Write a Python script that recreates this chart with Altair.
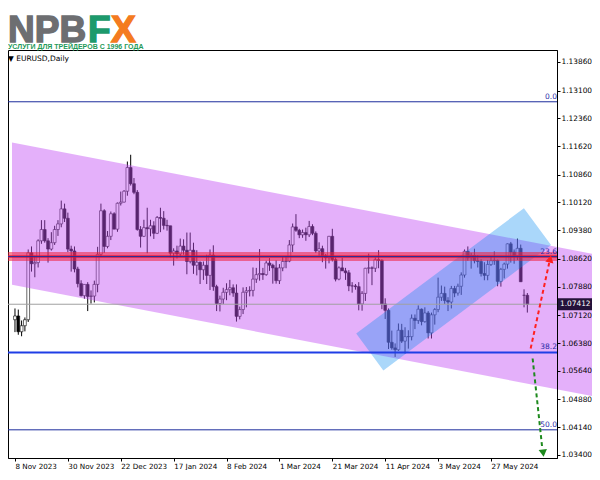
import altair as alt
import pandas as pd

# ---------------- data (EURUSD daily) ----------------
opens = [1.0700,1.0710,1.0668,1.0684,1.0700,1.0878,1.0849,1.0852,1.0910,1.0940,
         1.0910,1.0888,1.0905,1.0940,1.0955,1.0995,1.0970,1.0888,1.0883,1.0835,
         1.0796,1.0764,1.0794,1.0762,1.0763,1.0794,1.0874,1.0990,1.0895,1.0922,
         1.0982,1.0941,1.1010,1.1013,1.1042,1.1105,1.1062,1.1039,1.0940,1.0922,
         1.0945,1.0942,1.0950,1.0930,1.0972,1.0970,1.0951,1.0950,1.0877,1.0883,
         1.0875,1.0896,1.0885,1.0855,1.0885,1.0845,1.0853,1.0833,1.0845,1.0818,
         1.0872,1.0788,1.0743,1.0755,1.0773,1.0780,1.0785,1.0771,1.0709,1.0727,
         1.0773,1.0777,1.0778,1.0808,1.0820,1.0823,1.0820,1.0851,1.0845,1.0838,
         1.0804,1.0838,1.0855,1.0856,1.0899,1.0947,1.0938,1.0926,1.0932,1.0926,
         1.0948,1.0930,1.0883,1.0889,1.0870,1.0865,1.0922,1.0860,1.0808,1.0838,
         1.0830,1.0825,1.0790,1.0790,1.0788,1.0742,1.0770,1.0837,1.0838,1.0837,
         1.0860,1.0858,1.0742,1.0725,1.0640,1.0625,1.0620,1.0672,1.0643,1.0655,
         1.0655,1.0704,1.0698,1.0728,1.0695,1.0718,1.0665,1.0713,1.0727,1.0760,
         1.0770,1.0751,1.0747,1.0783,1.0771,1.0789,1.0819,1.0882,1.0865,1.0871,
         1.0857,1.0855,1.0823,1.0818,1.0847,1.0857,1.0858,1.0802,1.0834,1.0848,
         1.0902,1.0880,1.0870,1.0890,1.0765,1.0765]
highs = [1.0730,1.0727,1.0698,1.0706,1.0887,1.0895,1.0870,1.0914,1.0965,1.0965,
         1.0917,1.0933,1.0950,1.0965,1.1017,1.1009,1.0985,1.0897,1.0895,1.0841,
         1.0805,1.0794,1.0800,1.0778,1.0804,1.0894,1.1009,1.0994,1.0936,1.0988,
         1.0986,1.1012,1.1041,1.1045,1.1121,1.1139,1.1077,1.1045,1.0949,1.0966,
         1.0998,1.0966,1.0962,1.0976,1.0998,1.0989,1.0966,1.0950,1.0890,1.0897,
         1.0916,1.0914,1.0932,1.0932,1.0905,1.0885,1.0855,1.0855,1.0873,1.0887,
         1.0898,1.0793,1.0764,1.0785,1.0797,1.0806,1.0794,1.0794,1.0735,1.0786,
         1.0787,1.0789,1.0839,1.0838,1.0888,1.0838,1.0857,1.0864,1.0849,1.0858,
         1.0848,1.0867,1.0869,1.0912,1.0956,1.0981,1.0942,1.0940,1.0945,1.0963,
         1.0954,1.0935,1.0906,1.0897,1.0875,1.0923,1.0942,1.0866,1.0842,1.0865,
         1.0838,1.0832,1.0800,1.0795,1.0800,1.0776,1.0838,1.0876,1.0842,1.0866,
         1.0885,1.0861,1.0757,1.0730,1.0671,1.0637,1.0690,1.0689,1.0680,1.0672,
         1.0714,1.0714,1.0738,1.0730,1.0733,1.0723,1.0719,1.0731,1.0812,1.0791,
         1.0788,1.0760,1.0790,1.0790,1.0796,1.0826,1.0887,1.0895,1.0878,1.0889,
         1.0872,1.0861,1.0853,1.0859,1.0868,1.0882,1.0860,1.0838,1.0852,1.0903,
         1.0907,1.0887,1.0916,1.0900,1.0781,1.0771]
lows = [1.0667,1.0660,1.0656,1.0669,1.0694,1.0828,1.0813,1.0839,1.0902,1.0905,
        1.0852,1.0884,1.0899,1.0923,1.0946,1.0960,1.0880,1.0828,1.0826,1.0786,
        1.0762,1.0756,1.0723,1.0743,1.0746,1.0773,1.0867,1.0878,1.0890,1.0912,
        1.0941,1.0934,1.1004,1.1012,1.1030,1.1057,1.1034,1.0937,1.0892,1.0920,
        1.0877,1.0922,1.0915,1.0928,1.0933,1.0940,1.0937,1.0866,1.0844,1.0863,
        1.0868,1.0873,1.0821,1.0850,1.0822,1.0818,1.0795,1.0806,1.0795,1.0779,
        1.0777,1.0723,1.0722,1.0742,1.0752,1.0765,1.0761,1.0695,1.0701,1.0715,
        1.0733,1.0762,1.0762,1.0798,1.0804,1.0806,1.0817,1.0830,1.0796,1.0796,
        1.0795,1.0829,1.0837,1.0853,1.0880,1.0934,1.0917,1.0918,1.0910,1.0920,
        1.0925,1.0878,1.0870,1.0853,1.0836,1.0850,1.0855,1.0802,1.0805,1.0830,
        1.0806,1.0776,1.0772,1.0780,1.0725,1.0724,1.0750,1.0823,1.0792,1.0827,
        1.0837,1.0728,1.0702,1.0622,1.0620,1.0601,1.0617,1.0638,1.0610,1.0623,
        1.0645,1.0675,1.0689,1.0685,1.0692,1.0650,1.0650,1.0687,1.0720,1.0750,
        1.0742,1.0723,1.0730,1.0760,1.0764,1.0766,1.0812,1.0857,1.0836,1.0850,
        1.0839,1.0815,1.0805,1.0805,1.0843,1.0846,1.0789,1.0788,1.0810,1.0836,
        1.0852,1.0849,1.0859,1.0801,1.0733,1.0719]
closes = [1.0710,1.0668,1.0684,1.0700,1.0878,1.0849,1.0852,1.0910,1.0940,1.0910,
          1.0888,1.0905,1.0940,1.0955,1.0995,1.0970,1.0888,1.0883,1.0835,1.0796,
          1.0764,1.0794,1.0762,1.0763,1.0794,1.0874,1.0990,1.0895,1.0922,1.0982,
          1.0941,1.1010,1.1013,1.1042,1.1105,1.1062,1.1039,1.0940,1.0922,1.0945,
          1.0942,1.0950,1.0930,1.0972,1.0970,1.0951,1.0950,1.0877,1.0883,1.0875,
          1.0896,1.0885,1.0855,1.0885,1.0845,1.0853,1.0833,1.0845,1.0818,1.0872,
          1.0788,1.0743,1.0755,1.0773,1.0780,1.0785,1.0771,1.0709,1.0727,1.0773,
          1.0777,1.0778,1.0808,1.0820,1.0823,1.0820,1.0851,1.0845,1.0838,1.0804,
          1.0838,1.0855,1.0856,1.0899,1.0947,1.0938,1.0926,1.0932,1.0926,1.0948,
          1.0930,1.0883,1.0889,1.0870,1.0865,1.0922,1.0860,1.0808,1.0838,1.0830,
          1.0825,1.0790,1.0790,1.0788,1.0742,1.0770,1.0837,1.0838,1.0837,1.0860,
          1.0858,1.0742,1.0725,1.0640,1.0625,1.0620,1.0672,1.0643,1.0655,1.0655,
          1.0704,1.0698,1.0728,1.0695,1.0718,1.0665,1.0713,1.0727,1.0760,1.0770,
          1.0751,1.0747,1.0783,1.0771,1.0789,1.0819,1.0882,1.0865,1.0871,1.0857,
          1.0855,1.0823,1.0818,1.0847,1.0857,1.0858,1.0802,1.0834,1.0848,1.0902,
          1.0880,1.0870,1.0890,1.0801,1.0765,1.0741]

x_tick_idx = [0, 16, 32, 48, 64, 80, 96, 112, 128, 144]
x_tick_labels = ["8 Nov 2023", "30 Nov 2023", "22 Dec 2023", "17 Jan 2024", "8 Feb 2024",
                 "1 Mar 2024", "21 Mar 2024", "11 Apr 2024", "3 May 2024", "27 May 2024"]
y_ticks = [1.13860, 1.13100, 1.12360, 1.11620, 1.10860, 1.10120, 1.09380, 1.08620,
           1.07880, 1.07120, 1.06380, 1.05640, 1.04880, 1.04140, 1.03400]

# descending purple channel (two anchor bars, upper / lower price)
chan_x = [-0.9, 175.0]
chan_upper = [1.11715, 1.08749]
chan_lower = [1.07928, 1.04962]

# rising blue channel (rotated rectangle)
blue_x = [103.23, 111.44, 153.96, 162.17]
blue_top = [1.06630, 1.07170, 1.09967, 1.08987]
blue_bottom = [1.06630, 1.05650, 1.08447, 1.08987]

# Fibonacci retracement
fib_levels = [0.0, 23.6, 38.2, 50.0]
fib_0 = 1.1280
fib_100 = 0.9534

last_price = 1.07412

red_arrow_x = [156.0, 161.6]
red_arrow_y = [1.06233, 1.08510]
red_head = (161.9, 1.08616)
green_arrow_x = [156.6, 159.5]
green_arrow_y = [1.05968, 1.03590]
green_head = (159.8, 1.03450)

# ---------------- build ----------------
n = len(closes)
df = pd.DataFrame({"i": list(range(n)), "open": opens, "high": highs,
                   "low": lows, "close": closes})

xs = alt.Scale(domain=[-0.6, 162.46], nice=False, zero=False)
ys = alt.Scale(domain=[1.0332, 1.14178], nice=False, zero=False)

label_arr = "[" + ",".join("'" + t + "'" for t in x_tick_labels) + "]"
x_axis = alt.Axis(values=x_tick_idx, labelExpr=label_arr + "[round(datum.value / 16)]",
                  title=None, grid=False, orient="bottom", labelAlign="left",
                  tickSize=3, labelFontSize=7.2, labelFont="DejaVu Sans",
                  domainColor="black", tickColor="black", labelColor="black",
                  labelPadding=1, zindex=1, labelFlush=False, labelOverlap=False,
                  labelBound=False)
y_axis = alt.Axis(values=y_ticks, format=".5f", title=None, grid=False, orient="right",
                  tickSize=3, labelFontSize=7.4, labelFont="DejaVu Sans",
                  domainColor="black", tickColor="black", labelColor="black",
                  labelPadding=1, zindex=1, labelFlush=False, labelOverlap=False,
                  labelBound=False)


def X(f):
    return alt.X(f, scale=xs, axis=x_axis)


def Y(f):
    return alt.Y(f, scale=ys, axis=y_axis)


wicks = alt.Chart(df).mark_rule(color="black", strokeWidth=1).encode(
    x=X("i:Q"), y=Y("low:Q"), y2="high:Q")
bodies = alt.Chart(df).mark_bar(size=2.8, stroke="black", strokeWidth=0.6).encode(
    x=X("i:Q"), y=Y("open:Q"), y2="close:Q",
    color=alt.condition("datum.close >= datum.open", alt.value("white"), alt.value("black")),
)

chan_df = pd.DataFrame({"x": chan_x, "up": chan_upper, "lo": chan_lower})
purple = alt.Chart(chan_df).mark_area(color="#c34ff4", opacity=0.45).encode(
    x=X("x:Q"), y=Y("up:Q"), y2="lo:Q")

blue_df = pd.DataFrame({"x": blue_x, "top": blue_top, "bot": blue_bottom})
blue = alt.Chart(blue_df).mark_area(color="#0c8df1", opacity=0.35).encode(
    x=X("x:Q"), y=Y("top:Q"), y2="bot:Q")

fib_prices = [fib_0 - (fib_0 - fib_100) * lv / 100.0 for lv in fib_levels]
fib_df = pd.DataFrame({"level": fib_levels, "price": fib_prices,
                       "label": [f"{lv:.1f}" for lv in fib_levels]})

red_band = alt.Chart(fib_df[fib_df.level == 23.6]).mark_rule(
    color="#f0203c", strokeWidth=9, opacity=0.55).encode(y=Y("price:Q"))
red_core = alt.Chart(fib_df[fib_df.level == 23.6]).mark_rule(
    color="#e8102e", strokeWidth=3, opacity=0.6).encode(y=Y("price:Q"))

fib_thin = alt.Chart(fib_df[fib_df.level != 38.2]).mark_rule(
    color="#1c2c9c", strokeWidth=1).encode(y=Y("price:Q"))
fib_382 = alt.Chart(fib_df[fib_df.level == 38.2]).mark_rule(
    color="#1f3ee6", strokeWidth=2).encode(y=Y("price:Q"))
fib_text = alt.Chart(fib_df).mark_text(
    align="right", baseline="bottom", dy=-1, fontSize=7.5, font="DejaVu Sans",
    color="#2b2ba8").encode(x=alt.value(549), y=Y("price:Q"), text="label:N")

price_df = pd.DataFrame({"p": [last_price]})
price_line = alt.Chart(price_df).mark_rule(
    color="#a0a0a0", strokeWidth=1).encode(y=Y("p:Q"))
price_box = alt.Chart(price_df).mark_rect(color="#24123a").encode(
    x=alt.value(549), x2=alt.value(584), y=Y("hi:Q"), y2="lo:Q").transform_calculate(
    hi="datum.p + 0.0016", lo="datum.p - 0.0016")
price_text = alt.Chart(price_df).mark_text(
    align="left", baseline="middle", fontSize=7.4, font="DejaVu Sans",
    color="white").encode(x=alt.value(552), y=Y("p:Q"),
                          text=alt.Text("p:Q", format=".5f"))

red_df = pd.DataFrame({"x": red_arrow_x, "y": red_arrow_y})
red_line = alt.Chart(red_df).mark_line(
    color="#ff2020", strokeWidth=2, strokeDash=[4, 3]).encode(x=X("x:Q"), y=Y("y:Q"))
red_tip = alt.Chart(pd.DataFrame({"x": [red_head[0]], "y": [red_head[1]]})).mark_point(
    shape="triangle-up", filled=True, color="#ff2020", size=70, angle=13, opacity=1).encode(
    x=X("x:Q"), y=Y("y:Q"))
green_df = pd.DataFrame({"x": green_arrow_x, "y": green_arrow_y})
green_line = alt.Chart(green_df).mark_line(
    color="#1e8a1e", strokeWidth=2, strokeDash=[4, 3]).encode(x=X("x:Q"), y=Y("y:Q"))
green_tip = alt.Chart(pd.DataFrame({"x": [green_head[0]], "y": [green_head[1]]})).mark_point(
    shape="triangle-down", filled=True, color="#1e8a1e", size=70, angle=353, opacity=1).encode(
    x=X("x:Q"), y=Y("y:Q"))

one = pd.DataFrame({"a": [0]})


def txt(text, x, y, size, color, weight="normal", font="Liberation Sans", stroke=None, sw=0):
    kw = dict(text=text, align="left", baseline="alphabetic", fontSize=size,
              color=color, fontWeight=weight, font=font)
    if stroke:
        kw.update(stroke=stroke, strokeWidth=sw)
    return alt.Chart(one).mark_text(**kw).encode(x=alt.value(x), y=alt.value(y))


logo_npb = txt("NPB", 0, -8, 37, "#6d6e71", "bold", stroke="#6d6e71", sw=1.4)
logo_f = txt("F", 80, -8, 37, "#1d9a6c", "bold", stroke="#1d9a6c", sw=1.4)
logo_x = txt("X", 103, -8, 37, "#f47b20", "bold", stroke="#f47b20", sw=1.4)
slogan = txt("УСЛУГИ ДЛЯ ТРЕЙДЕРОВ С 1996 ГОДА", 0, -1, 7, "#1f9a5a", "bold")
symbol = txt("▼ EURUSD,Daily", 0, 11, 7.5, "black", font="DejaVu Sans")

chart = alt.layer(
    wicks, bodies, purple, blue, red_band, red_core, fib_thin, fib_382,
    price_line, red_line, red_tip, green_line, green_tip, fib_text,
    price_box, price_text, logo_npb, logo_f, logo_x, slogan, symbol,
).properties(
    width=549, height=408,
    padding={"left": 0, "top": 42, "right": 35, "bottom": 12},
    autosize=alt.AutoSizeParams(type="none"),
    background="white",
).configure_view(stroke="black", strokeWidth=1)

chart.save("out.html", embed_options={"renderer": "svg", "actions": False})
